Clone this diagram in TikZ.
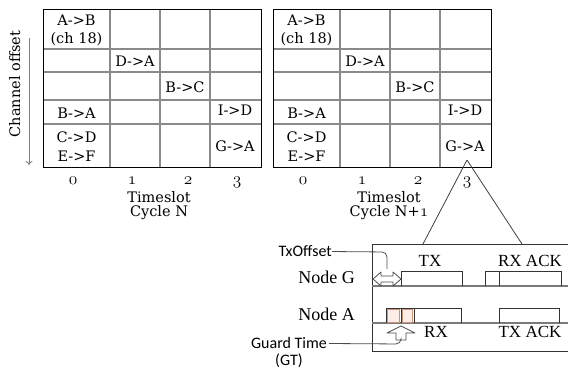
\documentclass[tikz,border=0pt]{standalone}
\usepackage{fontspec}
\setmainfont{DejaVu Serif}
\newfontfamily\timesfont{Liberation Serif}
\newfontfamily\calfont{Carlito}
\usepackage{tikz}
\usetikzlibrary{positioning,arrows.meta}
\usepackage{xcolor}
\definecolor{gridgray}{HTML}{8A8A8A}
\definecolor{rowgray}{HTML}{7A7A7A}
\definecolor{guardfill}{HTML}{FBEEE7}
\definecolor{guardline}{HTML}{C9957A}
\newcommand{\osnum}[1]{{\fontsize{19}{19}\usefont{OML}{cmm}{m}{it}#1}}

\begin{document}
\begin{tikzpicture}[x=1pt, y=-1pt,
    cell/.style={font=\fontsize{14.5}{18}\selectfont, align=center, inner sep=0pt},
    axis/.style={font=\fontsize{14.5}{16}\selectfont, inner sep=0pt, anchor=base},
    lbl/.style={font=\timesfont\fontsize{18}{20}\selectfont, inner sep=0pt, anchor=base},
    note/.style={font=\calfont\fontsize{16}{18}\selectfont, inner sep=0pt, anchor=base},
    slot/.style={draw=black!80, line width=0.8pt},
    guard/.style={draw=guardline, fill=guardfill, line width=0.9pt},
    leader/.style={draw=black!70, line width=0.8pt, rounded corners=5pt},
    hollow/.style={draw=black!70, fill=white, line width=0.8pt, line join=round},
]
\useasboundingbox (0,0) rectangle (568,371);

% === Channel offset axis ===
\node[cell, rotate=90, anchor=base] (choff) at (20,84) {Channel offset};
\coordinate (chtop) at (29,38);
\coordinate (chbot) at (29,165);
\draw[gray, line width=0.9pt, -{To[length=4pt, width=7pt]}] (chtop) -- (chbot);

% === Two cycles of the slotframe ===
\foreach \gx/\nm/\cyc in {0/a/{N}, 230/b/{N+\osnum{1}}} {
  \draw[gridgray, line width=1.1pt] (110+\gx,9) -- (110+\gx,167)
        (160+\gx,9) -- (160+\gx,167) (210+\gx,9) -- (210+\gx,167);
  \draw[gridgray, line width=1.1pt] (43+\gx,49) -- (261+\gx,49)
        (43+\gx,72) -- (261+\gx,72) (43+\gx,100) -- (261+\gx,100)
        (43+\gx,124) -- (261+\gx,124);
  \draw[black, line width=0.8pt] (43+\gx,9) rectangle (261+\gx,167);
  % cell contents
  \node[cell] (ab\nm) at (76.5+\gx,30) {A->B\\(ch 18)};
  \node[cell] (da\nm) at (135+\gx,61) {D->A};
  \node[cell] (bc\nm) at (185+\gx,87) {B->C};
  \node[cell] (ba\nm) at (76.5+\gx,113) {B->A};
  \node[cell] (id\nm) at (235+\gx,110) {I->D};
  \node[cell, font=\fontsize{14.5}{19}\selectfont] (cd\nm) at (76.5+\gx,147) {C->D\\E->F};
  \node[cell] (ga\nm) at (235+\gx,146) {G->A};
  % timeslot axis
  \node[axis] (tz\nm) at (73+\gx,185) {\osnum{0}};
  \node[axis] (to\nm) at (132+\gx,185) {\osnum{1}};
  \node[axis] (tw\nm) at (188+\gx,185) {\osnum{2}};
  \node[axis] (tt\nm) at (237+\gx,185) {\osnum{3}};
  \node[axis] (ts\nm) at (159+\gx,203) {Timeslot};
  \node[axis] (cy\nm) at (159+\gx,217) {Cycle \cyc};
}

% === Zoom on timeslot 3 of cycle N+1 ===
\coordinate (apex) at (467,160);
\coordinate (zl) at (423,244);
\coordinate (zr) at (522,244);
\draw[black!75, line width=0.8pt] (apex) -- (zl);
\draw[black!75, line width=0.8pt] (apex) -- (zr);
\draw[black!80, line width=0.8pt] (372,244) rectangle (580,351);

% rows
\draw[rowgray, line width=1.4pt] (372,286) -- (580,286);
\draw[rowgray, line width=1.4pt] (372,323) -- (580,323);
\node[lbl, anchor=base east] (nodeg) at (355,284) {Node G};
\node[lbl, anchor=base east] (nodea) at (355,321) {Node A};

% Node G: TX then RX ACK
\draw[slot] (401,286) -- (401,271) -- (462,271) -- (462,286);
\draw[slot] (485,286) -- (485,271) -- (561,271) -- (561,286);
\draw[slot] (499,271) -- (499,286);
\node[lbl, font=\timesfont\fontsize{17}{19}\selectfont] (tx) at (430,267) {TX};
\node[lbl, font=\timesfont\fontsize{17}{19}\selectfont] (rxack) at (530,267) {RX ACK};

% Node A: guard time, RX then TX ACK
\draw[guard] (387.5,309.5) rectangle (399.5,322);
\draw[guard] (402.5,309.5) rectangle (412.5,322);
\draw[slot] (386,323) -- (386,308) -- (461,308) -- (461,323);
\draw[slot] (401,308) -- (401,323) (414,308) -- (414,323);
\draw[slot] (499,323) -- (499,308) -- (559,308) -- (559,323);
\node[lbl, font=\timesfont\fontsize{17}{19}\selectfont] (rx) at (436,338) {RX};
\node[lbl, font=\timesfont\fontsize{17}{19}\selectfont] (txack) at (530,338) {TX ACK};

% TxOffset marker
\draw[hollow] (373,279) -- (381,272) -- (381,276) -- (393,276) -- (393,272)
  -- (401,279) -- (393,286) -- (393,282) -- (381,282) -- (381,286) -- cycle;
\node[note, anchor=base east] (txoff) at (332,257) {TxOffset};
\coordinate (txtip) at (387,269);
\draw[leader] (txoff.east) -- (387,252) -- (txtip);

% Guard time marker
\draw[hollow] (401,326) -- (415,333) -- (406,333) -- (406,340) -- (396,340)
  -- (396,333) -- (387,333) -- cycle;
\node[note] (gt) at (289,349) {Guard Time};
\node[note] (gtabbr) at (289,366) {(GT)};
\coordinate (gttip) at (401,340);
\draw[leader] (gt.east) ++(2,0) -- (401,344) -- (gttip);

\end{tikzpicture}
\end{document}
